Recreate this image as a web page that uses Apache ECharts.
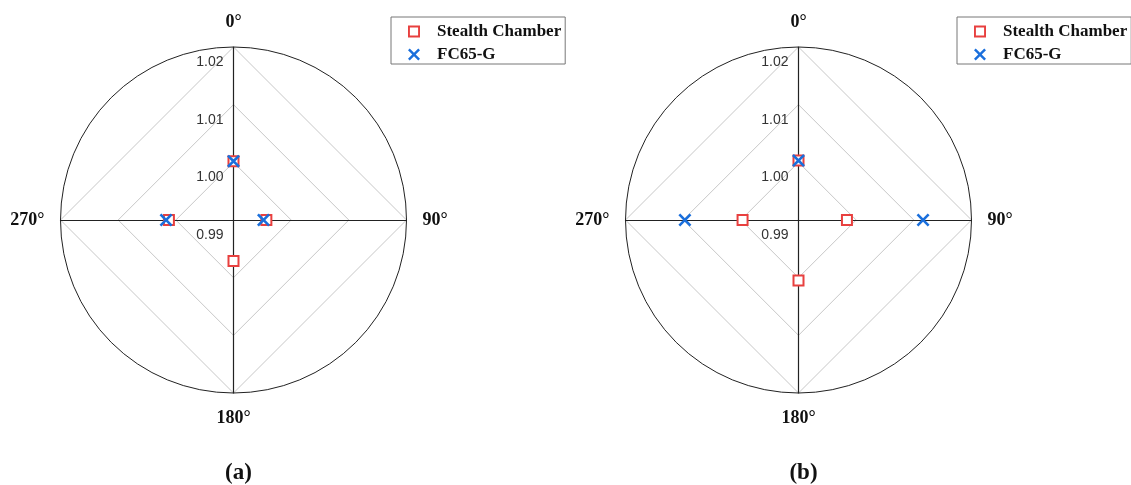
<!DOCTYPE html>
<html>
<head>
<meta charset="utf-8">
<script src="https://cdn.jsdelivr.net/npm/echarts@6/dist/echarts.min.js"></script>
<style>
html,body{margin:0;padding:0;background:#fff;}
#main{width:1131px;height:485px;}
</style>
</head>
<body>
<div id="main"></div>
<script>
// Directions (degrees, clockwise from the top) and their labels
var angles = [0, 90, 180, 270];
var angleLabels = ['0°', '90°', '180°', '270°'];
var radiusTicks = ['0.99', '1.00', '1.01', '1.02'];
var radiusMin = 0.99, radiusMax = 1.02;
var seriesNames = ['Stealth Chamber', 'FC65-G'];
// (a) values at 0°, 90°, 180°, 270°
var stealthA = [1.0002, 0.9957, 0.9971, 1.0012];
var fc65A    = [1.0002, 0.9952, '-', 1.0017];
// (b) values at 0°, 90°, 180°, 270°
var stealthB = [1.0003, 0.9984, 1.0005, 0.9997];
var fc65B    = [1.0003, 1.0116, '-', 1.0097];
var captions = ['(a)', '(b)'];

var RED = '#e8403f', BLUE = '#1a6fdc';
var XPATH = 'path://M0,2 L2,0 L7,5 L12,0 L14,2 L9,7 L14,12 L12,14 L7,9 L2,14 L0,12 L5,7 Z';
var SQPATH = 'path://M0,0 L10,0 L10,10 L0,10 Z M1.6,1.6 L1.6,8.4 L8.4,8.4 L8.4,1.6 Z';
var SERIF = '"Liberation Serif", "Times New Roman", serif';
var centers = [[233.5, 220], [798.5, 220]];
var R = 173;
// ECharts radar lays indicators out counter-clockwise from the top
var radarOrder = [0, 3, 2, 1];

function polyRadar(c) {
  return {
    center: c, radius: R, startAngle: 90, shape: 'polygon', splitNumber: radiusTicks.length - 1,
    indicator: radarOrder.map(function (k, i) {
      var ind = { name: angleLabels[k], min: radiusMin, max: radiusMax };
      if (i > 0) ind.axisLabel = { show: false };
      return ind;
    }),
    axisName: { color: '#111', fontFamily: SERIF, fontWeight: 'bold', fontSize: 18 },
    nameGap: 16,
    axisLine: { lineStyle: { color: '#222', width: 1.2 } },
    splitLine: { lineStyle: { color: '#c8c8c8', width: 1 } },
    splitArea: { show: false },
    axisTick: { show: false },
    axisLabel: {
      show: true, color: '#333', fontFamily: '"Liberation Sans", Arial, sans-serif', fontSize: 14,
      margin: 10, verticalAlign: 'top', lineHeight: 30,
      showMinLabel: true, showMaxLabel: true, hideOverlap: false,
      formatter: function (v) {
        var idx = Math.round((v - radiusMin) / ((radiusMax - radiusMin) / (radiusTicks.length - 1)));
        return radiusTicks[idx] || '';
      }
    },
    silent: true
  };
}
function polarDef(c) { return { center: c, radius: R }; }
function angleAxisDef(i) {
  return {
    polarIndex: i, type: 'value', min: 0, max: 360, startAngle: 90, clockwise: true,
    axisLine: { show: true, lineStyle: { color: '#222', width: 1 } },
    axisTick: { show: false }, axisLabel: { show: false }, splitLine: { show: false }
  };
}
function radiusAxisDef(i) {
  return {
    polarIndex: i, type: 'value', min: radiusMin, max: radiusMax,
    axisLine: { show: false }, axisTick: { show: false }, axisLabel: { show: false }, splitLine: { show: false }
  };
}
function makeSeries(polarIndex, vals, which) {
  var isX = which === 1;
  return {
    type: 'scatter', coordinateSystem: 'polar', polarIndex: polarIndex, name: seriesNames[which],
    symbol: isX ? XPATH : 'emptyRect',
    symbolSize: isX ? 13 : 10,
    itemStyle: isX ? { color: BLUE, opacity: 1 } : { color: RED, borderColor: RED, borderWidth: 1.6, opacity: 1 },
    z: isX ? 4 : 3,
    data: angles.map(function (a, i) { return [vals[i], a]; })
  };
}
function makeLegend(left) {
  return {
    left: left, top: 17, orient: 'vertical',
    borderColor: '#777', borderWidth: 1, padding: [6, 4, 1, 17],
    itemWidth: 36, itemHeight: 12, itemGap: 6,
    selectedMode: false,
    textStyle: { color: '#111', fontFamily: SERIF, fontWeight: 'bold', fontSize: 17 },
    data: [
      { name: seriesNames[0], icon: SQPATH, itemStyle: { color: RED, borderWidth: 0 } },
      { name: seriesNames[1], icon: XPATH, itemStyle: { color: BLUE, borderWidth: 0 } }
    ]
  };
}

var chart = echarts.init(document.getElementById('main'), null, { renderer: 'canvas' });
chart.setOption({
  backgroundColor: '#fff',
  animation: false,
  title: captions.map(function (t, i) {
    return {
      text: t, left: centers[i][0], top: 457, textAlign: 'center',
      textStyle: { color: '#111', fontFamily: SERIF, fontWeight: 'bold', fontSize: 23 }
    };
  }),
  legend: [makeLegend(391), makeLegend(957)],
  radar: [polyRadar(centers[0]), polyRadar(centers[1])],
  polar: [polarDef(centers[0]), polarDef(centers[1])],
  angleAxis: [angleAxisDef(0), angleAxisDef(1)],
  radiusAxis: [radiusAxisDef(0), radiusAxisDef(1)],
  series: [
    makeSeries(0, stealthA, 0), makeSeries(0, fc65A, 1),
    makeSeries(1, stealthB, 0), makeSeries(1, fc65B, 1)
  ]
});
</script>
</body>
</html>
